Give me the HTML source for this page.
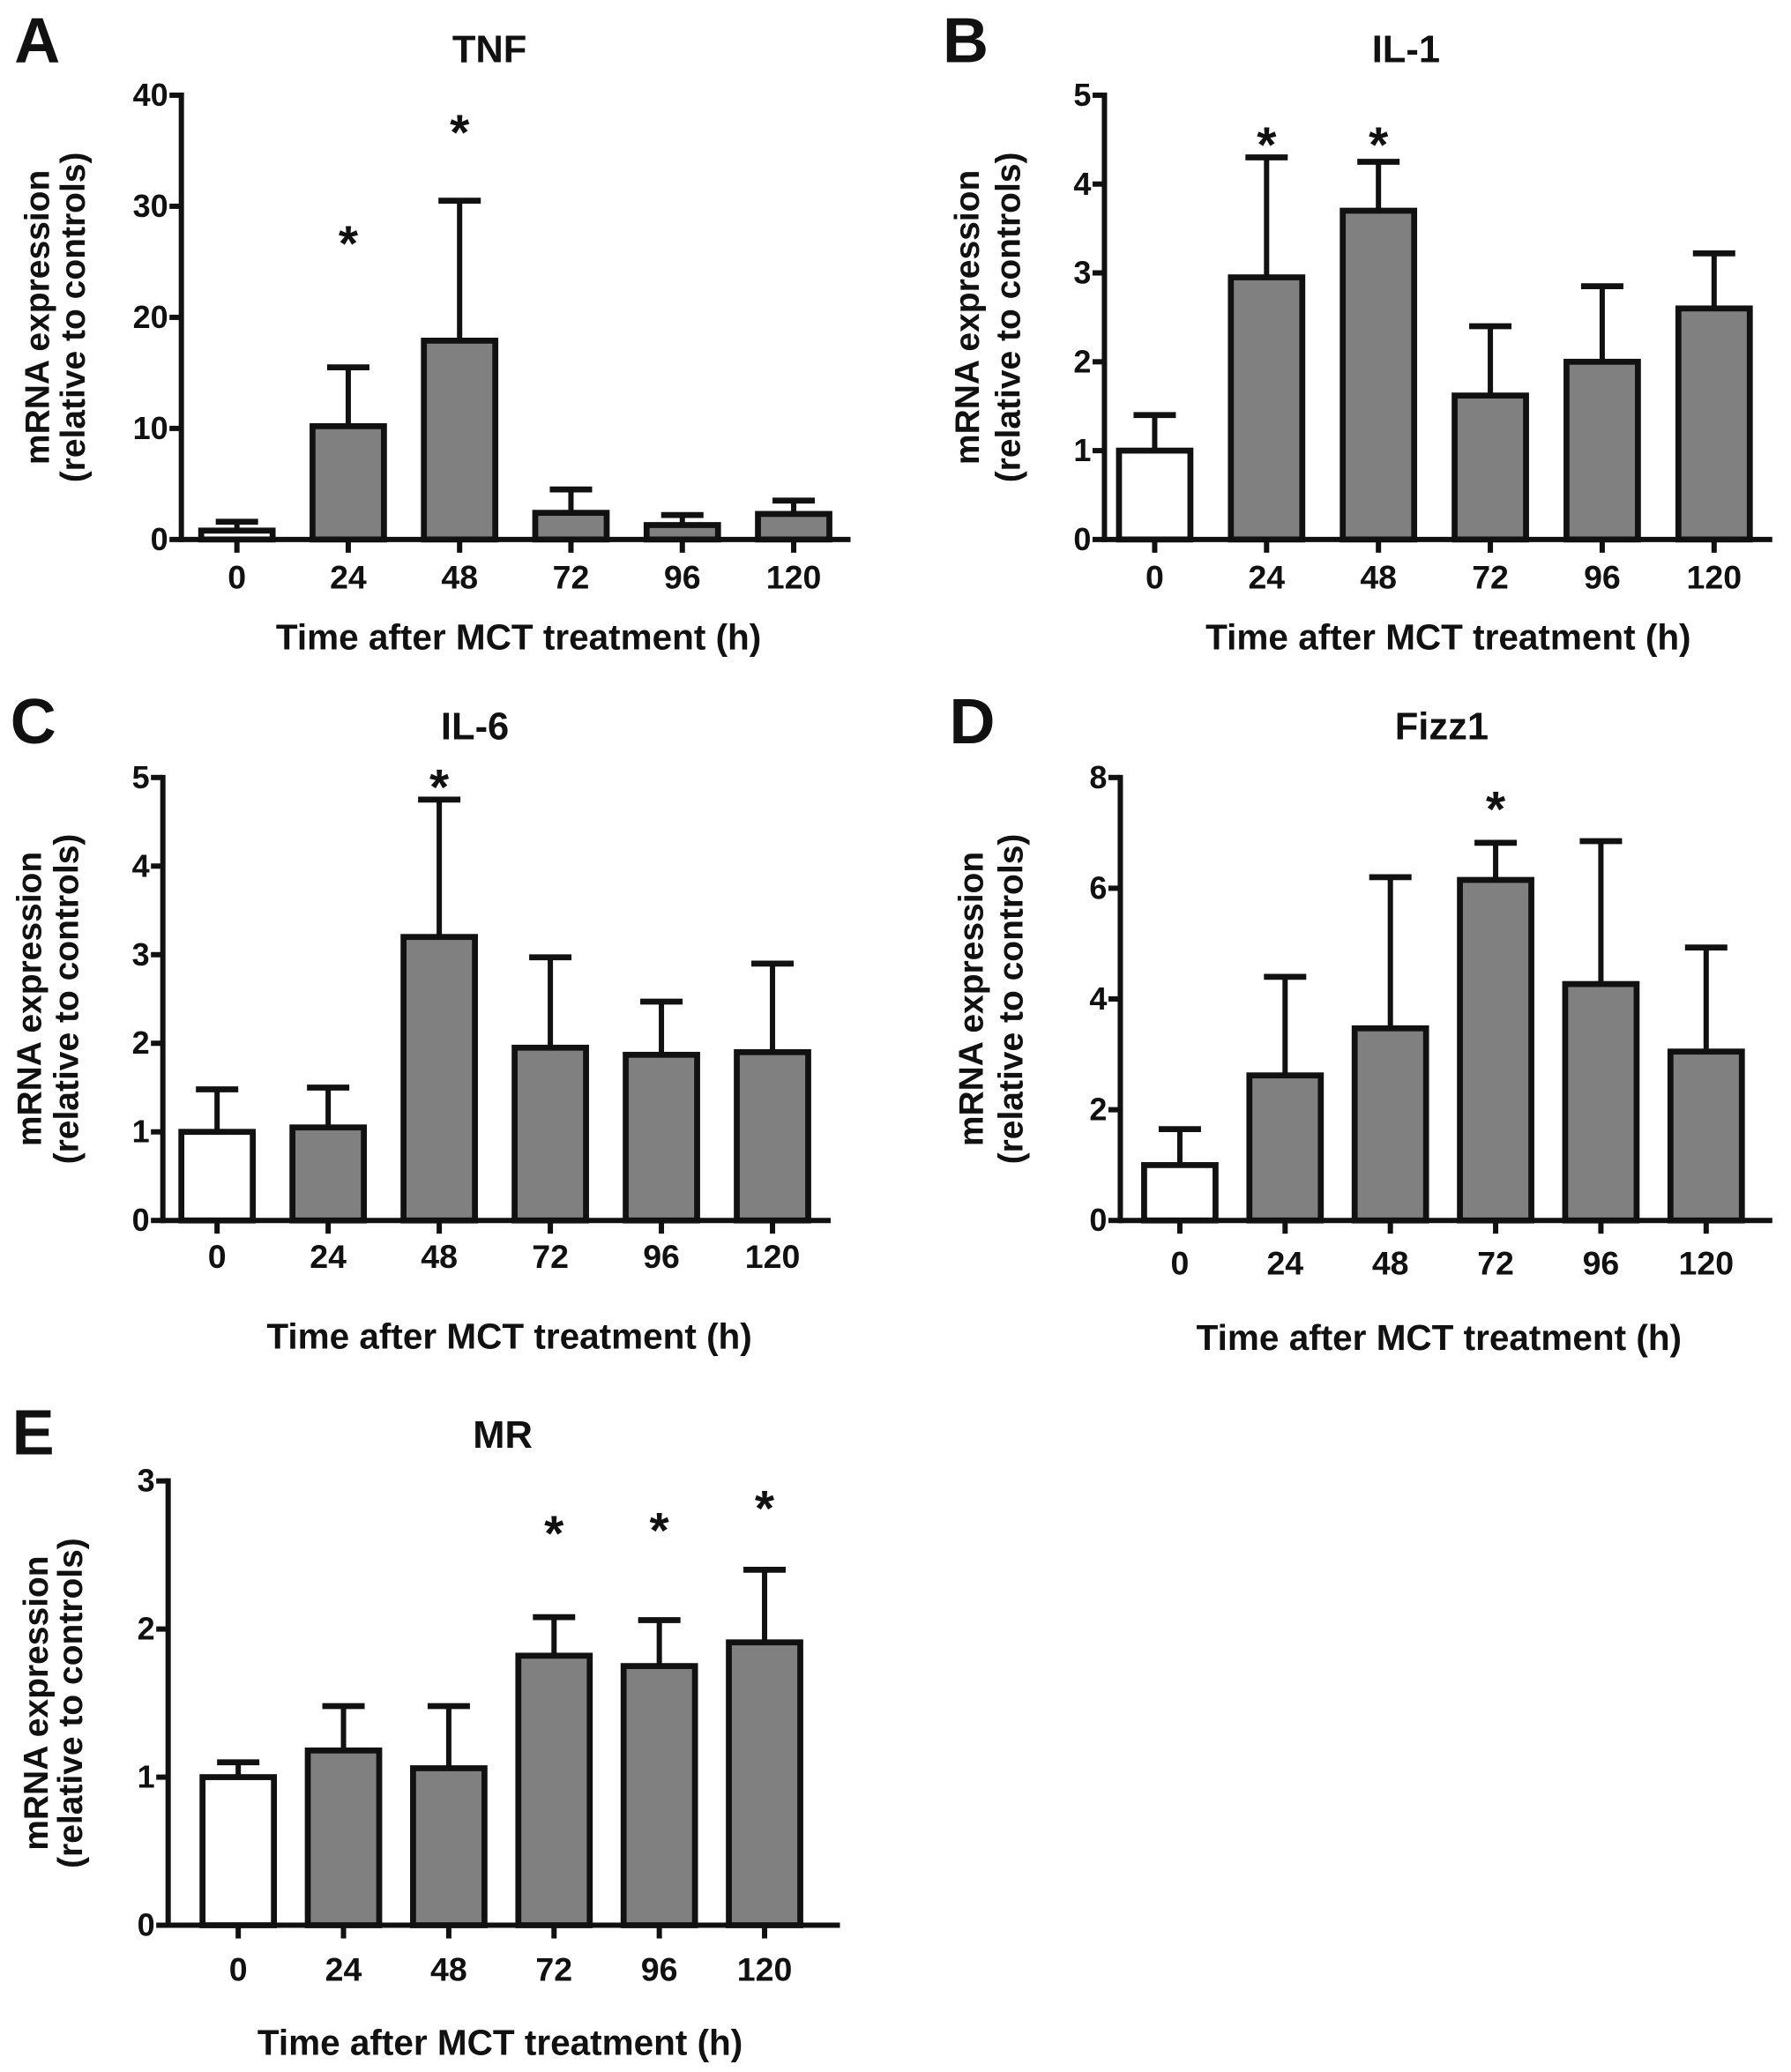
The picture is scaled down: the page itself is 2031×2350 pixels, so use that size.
<!DOCTYPE html>
<html><head><meta charset="utf-8"><style>
html,body{margin:0;padding:0;background:#fff;}
svg{display:block;}
text{font-family:"Liberation Sans",Arial,sans-serif;font-weight:bold;fill:#111;}
</style></head><body>
<svg id="fig" width="2031" height="2350" viewBox="0 0 1354 1567" xmlns="http://www.w3.org/2000/svg"></svg>
<script>
const categories = ["0","24","48","72","96","120"];
const tnfMeans = [0.8,10.2,17.9,2.4,1.3,2.3];
const tnfUpper = [1.6,15.5,30.5,4.5,2.2,3.5];
const tnfTicks = [0,10,20,30,40];
const tnfStars = [null,27.5,37.5,null,null,null];
const il1Means = [1.0,2.95,3.7,1.62,2.0,2.6];
const il1Upper = [1.4,4.3,4.25,2.4,2.85,3.22];
const il1Ticks = [0,1,2,3,4,5];
const il1Stars = [null,4.55,4.55,null,null,null];
const il6Means = [1.0,1.05,3.2,1.95,1.87,1.9];
const il6Upper = [1.48,1.5,4.75,2.97,2.47,2.9];
const il6Ticks = [0,1,2,3,4,5];
const il6Stars = [null,null,5.0,null,null,null];
const fizzMeans = [1.0,2.62,3.47,6.15,4.27,3.05];
const fizzUpper = [1.65,4.4,6.2,6.82,6.85,4.93];
const fizzTicks = [0,2,4,6,8];
const fizzStars = [null,null,null,7.6,null,null];
const mrMeans = [1.0,1.18,1.06,1.82,1.75,1.91];
const mrUpper = [1.1,1.48,1.48,2.08,2.06,2.4];
const mrTicks = [0,1,2,3];
const mrStars = [null,null,null,2.71,2.73,2.88];

const NS="http://www.w3.org/2000/svg";
const svg=document.getElementById('fig');
function mk(tag,attrs,parent){const e=document.createElementNS(NS,tag);for(const k in attrs)e.setAttribute(k,attrs[k]);(parent||svg).appendChild(e);return e;}
function txt(s,attrs,parent){const e=mk('text',attrs,parent);e.textContent=s;return e;}

const panels=[
 {key:'tnf',letter:'A',title:'TNF',means:tnfMeans,upper:tnfUpper,ticks:tnfTicks,stars:tnfStars,ax:137,top:72,zero:408,xend:643,x0:179,x5:600,lx:28,ly:30,tx:370,ty:37,tly:436,xty:482,xtx:392,yl1:28,yl2:55},
 {key:'il1',letter:'B',title:'IL-1',means:il1Means,upper:il1Upper,ticks:il1Ticks,stars:il1Stars,ax:835,top:72,zero:408,xend:1340,x0:873,x5:1296,lx:730,ly:30,tx:1063,ty:37,tly:436,xty:482,xtx:1095,yl1:731,yl2:762},
 {key:'il6',letter:'C',title:'IL-6',means:il6Means,upper:il6Upper,ticks:il6Ticks,stars:il6Stars,ax:123,top:588,zero:923,xend:628,x0:164,x5:584,lx:25,ly:545,tx:359,ty:549,tly:950,xty:1011,xtx:385,yl1:22,yl2:50},
 {key:'fizz1',letter:'D',title:'Fizz1',means:fizzMeans,upper:fizzUpper,ticks:fizzTicks,stars:fizzStars,ax:847,top:588,zero:923,xend:1340,x0:892,x5:1290,lx:735,ly:545,tx:1090,ty:549,tly:955,xty:1012,xtx:1088,yl1:734,yl2:764},
 {key:'mr',letter:'E',title:'MR',means:mrMeans,upper:mrUpper,ticks:mrTicks,stars:mrStars,ax:127,top:1120,zero:1456,xend:635,x0:180,x5:578,lx:25,ly:1083,tx:380,ty:1085,tly:1489,xty:1545,xtx:378,yl1:27,yl2:53}
];

panels.forEach(p=>{
  const g=mk('g',{});
  
  
  const ymax=p.ticks[p.ticks.length-1];
  const y=v=>p.zero-(v/ymax)*(p.zero-p.top);
  const step=(p.x5-p.x0)/(categories.length-1);
  const x=i=>p.x0+i*step;
  const bw=54, cw=32;
  let t;
  t=txt(p.letter,{x:p.lx,y:p.ly+17,'font-size':48,'text-anchor':'middle'},g);
  
  
  t=txt(p.title,{x:p.tx,y:p.ty+10,'font-size':29,'text-anchor':'middle'},g);
  
  
  p.means.forEach((m,i)=>{
    const cx=x(i);
    const e=mk('line',{x1:cx,x2:cx,y1:y(m),y2:y(p.upper[i]),stroke:'#111','stroke-width':4},g);
    
    
    const c=mk('line',{x1:cx-cw/2,x2:cx+cw/2,y1:y(p.upper[i]),y2:y(p.upper[i]),stroke:'#111','stroke-width':4.5},g);
    
    
    const r=mk('rect',{x:cx-bw/2,y:y(m),width:bw,height:p.zero-y(m),fill:i===0?'#fff':'#808080',stroke:'#111','stroke-width':4.5},g);
    
    
    if(p.stars[i]!==null){
      const s=txt('*',{x:cx,y:y(p.stars[i])+20,'font-size':38,'text-anchor':'middle'},g);
      
      
    }
    const tk=mk('line',{x1:cx,x2:cx,y1:p.zero,y2:p.zero+10,stroke:'#111','stroke-width':4},g);
    
    
    const tl=txt(categories[i],{x:cx,y:p.tly+9,'font-size':25,'text-anchor':'middle'},g);
    
    
  });
  const ya=mk('line',{x1:p.ax,x2:p.ax,y1:p.top-2,y2:p.zero+2,stroke:'#111','stroke-width':4},g);
  
  
  const xa=mk('line',{x1:p.ax,x2:p.xend,y1:p.zero,y2:p.zero,stroke:'#111','stroke-width':4},g);
  
  
  p.ticks.forEach(v=>{
    const tk=mk('line',{x1:p.ax-9,x2:p.ax,y1:y(v),y2:y(v),stroke:'#111','stroke-width':4},g);
    
    
    const tl=txt(String(v),{x:p.ax-10,y:y(v)+8,'font-size':24,'text-anchor':'end'},g);
    
    
  });
  const xt=txt('Time after MCT treatment  (h)',{x:p.xtx,y:p.xty+9,'font-size':27,'text-anchor':'middle'},g);
  
  
  xt.setAttribute('xml:space','preserve');
  const cy=(p.top+p.zero)/2;
  const y1=txt('mRNA expression',{x:0,y:0,'font-size':26,'text-anchor':'middle',transform:`translate(${p.yl1+9},${cy}) rotate(-90)`},g);
  
  
  const y2=txt('(relative to controls)',{x:0,y:0,'font-size':26,'text-anchor':'middle',transform:`translate(${p.yl2+9},${cy}) rotate(-90)`},g);
  
  
});
</script>
</body></html>
